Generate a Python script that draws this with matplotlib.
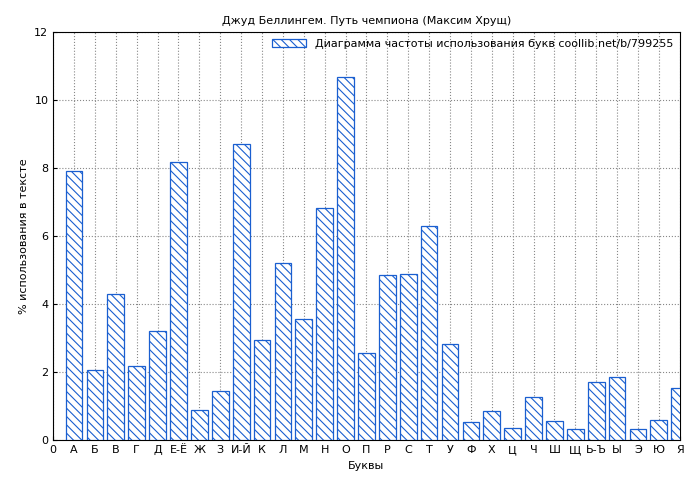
import matplotlib
matplotlib.use("Agg")
from matplotlib import pyplot as plt

letters = ["А", "Б", "В", "Г", "Д", "Е-Ё", "Ж", "З", "И-Й", "К", "Л", "М", "Н", "О", "П",
           "Р", "С", "Т", "У", "Ф", "Х", "Ц", "Ч", "Ш", "Щ", "Ь-Ъ", "Ы", "Э", "Ю", "Я"]
values = [7.91, 2.05, 4.29, 2.17, 3.2, 8.18, 0.9, 1.45, 8.7, 2.95, 5.2, 3.56, 6.82, 10.68, 2.57,
          4.85, 4.88, 6.29, 2.82, 0.52, 0.87, 0.35, 1.27, 0.55, 0.33, 1.72, 1.87, 0.33, 0.6, 1.53]

plt.rcParams["font.size"] = 8
plt.rcParams["hatch.color"] = "#1a5fd0"
plt.rcParams["hatch.linewidth"] = 0.8

fig, ax = plt.subplots(figsize=(7, 4.8), dpi=100)
fig.subplots_adjust(left=0.076, right=0.971, top=0.933, bottom=0.083)

x = list(range(1, len(letters) + 1))
ax.bar(x, values, width=0.8, facecolor="white", edgecolor="#1a5fd0", hatch="\\\\\\\\",
       linewidth=0.9, label="Диаграмма частоты использования букв coollib.net/b/799255", zorder=3)

ax.set_xlim(0, 30)
ax.set_ylim(0, 12)
ax.set_xticks([0] + x)
ax.set_xticklabels(["0"] + letters)
ax.set_yticks(range(0, 13, 2))
ax.grid(True, linestyle=":", color="#888888", linewidth=0.8)
ax.tick_params(direction="in", length=3)
ax.set_xlabel("Буквы")
ax.set_ylabel("% использования в тексте")
ax.set_title("Джуд Беллингем. Путь чемпиона (Максим Хрущ)", fontsize=8)
ax.legend(loc="upper right", frameon=False, handlelength=3, borderaxespad=0.2)

fig.savefig("out.png")
